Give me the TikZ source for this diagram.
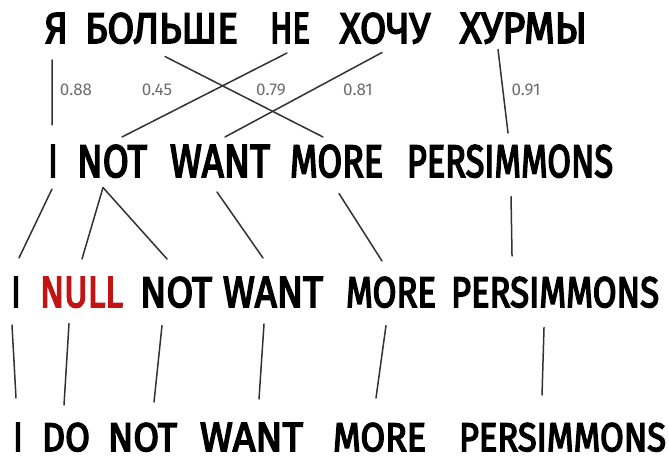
\documentclass[tikz,border=0pt]{standalone}
\usepackage{fontspec}
\setmainfont{Fira Sans}
\newfontfamily\wordfont{Fira Sans}[FakeBold=4]
\usepackage{graphicx}
\definecolor{nullred}{RGB}{195,20,20}
\definecolor{lineg}{RGB}{50,50,50}
\definecolor{labg}{RGB}{110,110,110}
\newcommand{\fitw}[3]{\resizebox{#1pt}{#2pt}{#3}}
\begin{document}
\begin{tikzpicture}[x=1pt,y=-1pt,
  word/.style={inner sep=0pt, outer sep=0pt, anchor=base west, font=\wordfont},
  iword/.style={inner sep=0pt, outer sep=0pt, anchor=base, font=\wordfont},
  conn/.style={draw=lineg, line width=1.5pt, line cap=round},
  lab/.style={inner sep=0pt, text=labg, font=\fontsize{17}{20}\selectfont}]
\useasboundingbox[fill=white] (0,0) rectangle (669,457);
% row 1
\node[word] (a1) at (45,43) {\fitw{23}{30}{Я}};
\node[word] (a2) at (85,43) {\fitw{153}{30}{БОЛЬШЕ}};
\node[word] (a3) at (270,43) {\fitw{40}{30}{НЕ}};
\node[word] (a4) at (340,43) {\fitw{90}{30}{ХОЧУ}};
\node[word] (a5) at (460,43) {\fitw{127}{30}{ХУРМЫ}};
% row 2
\node[iword] (b1) at (53,177) {\fitw{9}{32}{I}};
\node[word] (b2) at (77,177) {\fitw{70}{32}{NOT}};
\node[word] (b3) at (170,177) {\fitw{100}{32}{WANT}};
\node[word] (b4) at (290,177) {\fitw{93}{32}{MORE}};
\node[word] (b5) at (407,177) {\fitw{206}{32}{PERSIMMONS}};
% row 3
\node[iword] (c1) at (16,307) {\fitw{9}{30}{I}};
\node[word, text=nullred] (c2) at (40,307) {\fitw{83}{30}{NULL}};
\node[word] (c3) at (140,307) {\fitw{72}{30}{NOT}};
\node[word] (c4) at (223,307) {\fitw{100}{30}{WANT}};
\node[word] (c5) at (346,307) {\fitw{90}{30}{MORE}};
\node[word] (c6) at (451,307) {\fitw{208}{30}{PERSIMMONS}};
% row 4
\node[iword] (d1) at (18,451) {\fitw{9}{28}{I}};
\node[word] (d2) at (42,451) {\fitw{48}{28}{DO}};
\node[word] (d3) at (108,451) {\fitw{69}{28}{NOT}};
\node[word] (d4) at (200,451) {\fitw{103}{28}{WANT}};
\node[word] (d5) at (333,451) {\fitw{93}{28}{MORE}};
\node[word] (d6) at (459,451) {\fitw{207}{28}{PERSIMMONS}};
% labels
\node[lab] (l1) at (76,90) {0.88};
\node[lab] (l2) at (157,90) {0.45};
\node[lab] (l3) at (271,90) {0.79};
\node[lab] (l4) at (358,90) {0.81};
\node[lab] (l5) at (526,90) {0.91};
% row1 -> row2
\draw[conn] ([shift={(-4.5,17)}]a1.south) -- ([shift={(-1,-20)}]b1.north);
\draw[conn] ([shift={(3.5,13)}]a2.south) -- ([shift={(-13.5,-8)}]b4.north);
\draw[conn] ([shift={(-3,10)}]a3.south) -- ([shift={(10,-8)}]b2.north);
\draw[conn] ([shift={(-3,9)}]a4.south) -- ([shift={(5,-8)}]b3.north);
\draw[conn] ([shift={(-25.5,6)}]a5.south) -- ([shift={(-2,-12)}]b5.north);
% row2 -> row3
\draw[conn] ([shift={(-1,12)}]b1.south) -- ([shift={(3,-19)}]c1.north);
\draw[conn] ([shift={(-9,10)}]b2.south) -- ([shift={(0.5,-18)}]c2.north);
\draw[conn] ([shift={(-9,10)}]b2.south) -- ([shift={(-9,-18)}]c3.north);
\draw[conn] ([shift={(-3,15)}]b3.south) -- ([shift={(-10,-19)}]c4.north);
\draw[conn] ([shift={(2.5,16)}]b4.south) -- ([shift={(-9,-16)}]c5.north);
\draw[conn] ([shift={(1,19)}]b5.south) -- ([shift={(-43,-21)}]c6.north);
% row3 -> row4
\draw[conn] ([shift={(-4,18)}]c1.south) -- ([shift={(-2,-25)}]d1.north);
\draw[conn] ([shift={(-12.5,16)}]c2.south) -- ([shift={(-2,-18)}]d2.north);
\draw[conn] ([shift={(-14,18)}]c3.south) -- ([shift={(11.5,-21)}]d3.north);
\draw[conn] ([shift={(-9,17)}]c4.south) -- ([shift={(7.5,-24)}]d4.north);
\draw[conn] ([shift={(-5,18)}]c5.south) -- ([shift={(-3.5,-25)}]d5.north);
\draw[conn] ([shift={(-11,20)}]c6.south) -- ([shift={(-20.5,-28)}]d6.north);
\end{tikzpicture}
\end{document}
